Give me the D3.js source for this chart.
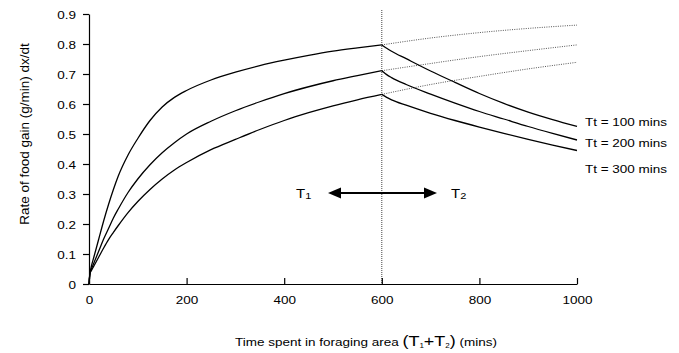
<!DOCTYPE html>
<html>
<head>
<meta charset="utf-8">
<script src="https://cdn.jsdelivr.net/npm/d3@7"></script>
<style>
  body { margin: 0; background: #fff; }
  svg { display: block; font-family: "Liberation Sans", Arial, sans-serif; }
</style>
</head>
<body>
<div id="chart"></div>
<script>
// Size of the picture
var w = 679, h = 353;

// Rising part (T1), minutes and rate of food gain
var tRise   = [0, 2, 5, 10, 20, 30, 40, 50, 60, 80, 100, 125, 150, 175, 200, 250, 300, 350, 400, 450, 500, 550, 600];
var rise100 = [0, 0.035, 0.06, 0.09, 0.15, 0.21, 0.265, 0.315, 0.36, 0.43, 0.485, 0.545, 0.59, 0.622, 0.645, 0.68, 0.706, 0.728, 0.746, 0.762, 0.776, 0.787, 0.797];
var rise200 = [0, 0.035, 0.05, 0.07, 0.11, 0.15, 0.185, 0.22, 0.25, 0.305, 0.35, 0.3975, 0.4375, 0.471, 0.50, 0.5425, 0.5775, 0.6075, 0.6345, 0.6575, 0.6775, 0.6945, 0.711];
var rise300 = [0, 0.035, 0.045, 0.06, 0.09, 0.12, 0.148, 0.172, 0.195, 0.238, 0.275, 0.315, 0.35, 0.38, 0.405, 0.448, 0.482, 0.515, 0.545, 0.571, 0.594, 0.614, 0.632];

// Falling part (T2) after 600 mins
var tFall   = [600, 610, 620, 650, 700, 750, 800, 850, 900, 950, 1000];
var fall100 = [0.797, 0.786, 0.776, 0.751, 0.71, 0.672, 0.635, 0.602, 0.573, 0.548, 0.525];
var fall200 = [0.711, 0.698, 0.688, 0.665, 0.633, 0.603, 0.575, 0.55, 0.525, 0.502, 0.48];
var fall300 = [0.632, 0.622, 0.614, 0.596, 0.569, 0.545, 0.523, 0.502, 0.482, 0.463, 0.445];

// Dotted continuation if the forager had stayed
var tDot   = [600, 700, 800, 900, 1000];
var dot100 = [0.797, 0.82, 0.838, 0.852, 0.863];
var dot200 = [0.711, 0.735, 0.758, 0.778, 0.797];
var dot300 = [0.632, 0.665, 0.692, 0.717, 0.739];

var seriesLabels = ["Tt = 100 mins", "Tt = 200 mins", "Tt = 300 mins"];
var xTicks = [0, 200, 400, 600, 800, 1000];
var yTicks = [0, 0.1, 0.2, 0.3, 0.4, 0.5, 0.6, 0.7, 0.8, 0.9];
var switchTime = 600;

var squash = 0.86;

var svg = d3.select("#chart").append("svg")
    .attr("width", w).attr("height", h);

var x = d3.scaleLinear().domain([0, 1000]).range([89, 577]);
var y = d3.scaleLinear().domain([0, 0.9]).range([284, 14]);

// dotted line at the switch time
svg.append("line")
    .attr("x1", x(switchTime)).attr("x2", x(switchTime))
    .attr("y1", y(0.9) - 4).attr("y2", y(0))
    .attr("stroke", "#444").attr("stroke-width", 1)
    .attr("stroke-dasharray", "1,1");

// axes
var xAxis = svg.append("g")
    .attr("transform", "translate(0," + y(0) + ")")
    .call(d3.axisBottom(x).tickValues(xTicks).tickSizeInner(-6).tickSizeOuter(0)
        .tickFormat(d3.format("d")));
var yAxis = svg.append("g")
    .attr("transform", "translate(" + x(0) + ",0)")
    .call(d3.axisLeft(y).tickValues(yTicks).tickSizeInner(6).tickSizeOuter(0).tickPadding(7)
        .tickFormat(function(d) { return d === 0 ? "0" : d3.format(".1f")(d); }));

svg.selectAll(".domain, .tick line").attr("stroke", "#000").attr("stroke-width", 1.2);
svg.selectAll(".tick text").attr("fill", "#000").style("font-size", "13.5px");
xAxis.selectAll(".tick text")
    .attr("dy", null)
    .attr("y", 20 / squash)
    .attr("transform", "scale(1," + squash + ")");
yAxis.selectAll(".tick text")
    .attr("dy", null)
    .attr("y", 4.5 / squash)
    .attr("transform", "scale(1," + squash + ")");

// lines
var line = d3.line()
    .x(function(d) { return x(d[0]); })
    .y(function(d) { return y(d[1]); })
    .curve(d3.curveMonotoneX);

function pairs(ts, vs) {
  return ts.map(function(t, i) { return [t, vs[i]]; });
}

var solid = [pairs(tRise, rise100), pairs(tRise, rise200), pairs(tRise, rise300),
             pairs(tFall, fall100), pairs(tFall, fall200), pairs(tFall, fall300)];
var dotted = [pairs(tDot, dot100), pairs(tDot, dot200), pairs(tDot, dot300)];

svg.append("g").selectAll("path")
    .data(dotted).enter().append("path")
    .attr("d", line)
    .attr("fill", "none").attr("stroke", "#555").attr("stroke-width", 1)
    .attr("stroke-dasharray", "1,1.3");

svg.append("g").selectAll("path")
    .data(solid).enter().append("path")
    .attr("d", line)
    .attr("fill", "none").attr("stroke", "#000").attr("stroke-width", 1.3);

// helper for the flattened horizontal texts
function hText(px, py, size, anchor) {
  return svg.append("text")
      .attr("transform", "translate(" + px + "," + py + ") scale(1," + squash + ")")
      .attr("text-anchor", anchor || "start")
      .style("font-size", size + "px")
      .attr("fill", "#000");
}

// series labels
var labelY = [126, 147, 173];
seriesLabels.forEach(function(s, i) {
  hText(585, labelY[i], 13.5).text(s);
});

// T1 / T2 arrow
var arrowY = 193;
svg.append("line")
    .attr("x1", 340).attr("x2", 425)
    .attr("y1", arrowY).attr("y2", arrowY)
    .attr("stroke", "#000").attr("stroke-width", 2.2);
svg.append("path")
    .attr("d", "M328," + arrowY + "l13,-5.5v11z")
    .attr("fill", "#000");
svg.append("path")
    .attr("d", "M437," + arrowY + "l-13,-5.5v11z")
    .attr("fill", "#000");

var t1 = hText(296, 198, 15);
t1.append("tspan").text("T");
t1.append("tspan").attr("dy", 1).style("font-size", "11px").text("1");
var t2 = hText(451, 198, 15);
t2.append("tspan").text("T");
t2.append("tspan").attr("dy", 1).style("font-size", "11px").text("2");

// x axis title
var xt = hText(366, 346, 13.5, "middle");
xt.append("tspan").text("Time spent in foraging area ");
xt.append("tspan").style("font-size", "18px").text("(T");
xt.append("tspan").style("font-size", "8px").attr("dy", 2).text("1");
xt.append("tspan").style("font-size", "18px").attr("dy", -2).text("+T");
xt.append("tspan").style("font-size", "8px").attr("dy", 2).text("2");
xt.append("tspan").style("font-size", "18px").attr("dy", -2).text(")");
xt.append("tspan").text(" (mins)");

// y axis title
svg.append("text")
    .attr("transform", "translate(29,134) rotate(-90)")
    .attr("text-anchor", "middle")
    .style("font-size", "13.5px")
    .attr("fill", "#000")
    .text("Rate of food gain (g/min) dx/dt");
</script>
</body>
</html>
